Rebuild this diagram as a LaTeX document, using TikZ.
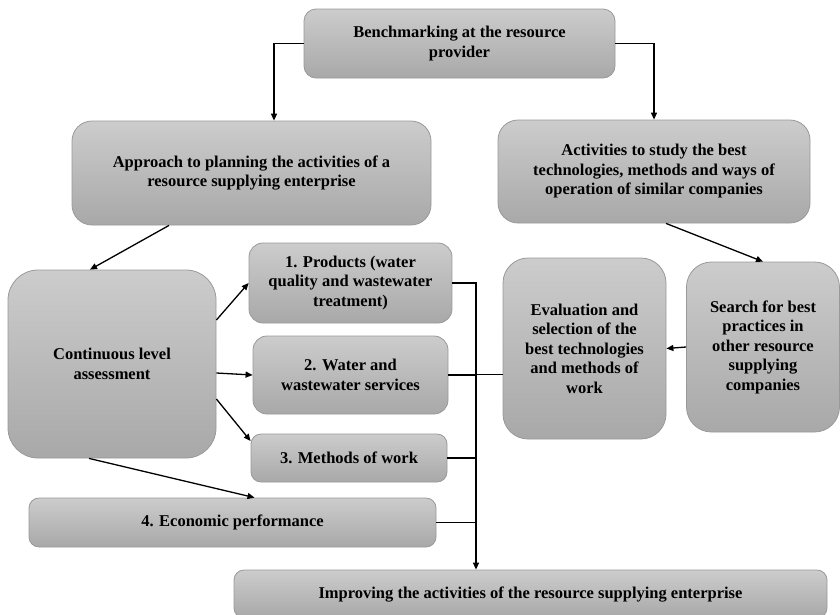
\documentclass[tikz,border=0pt]{standalone}
\usepackage{fontspec}
\setmainfont{Liberation Serif}
\usetikzlibrary{arrows.meta}

\definecolor{boxtop}{gray}{0.80}
\definecolor{boxbottom}{gray}{0.66}
\definecolor{boxline}{gray}{0.60}

\begin{document}
\begin{tikzpicture}[x=1pt, y=-1pt, line width=1.3pt, -{Triangle[length=7pt,width=6pt]},
	box/.style={draw=boxline, line width=0.8pt, top color=boxtop, bottom color=boxbottom,
		align=center, inner sep=0pt, font=\fontsize{16.5}{19.5}\selectfont\bfseries}]
	\useasboundingbox (0,0) rectangle (840,614);

% TOP LEVEL
	\node [box, rounded corners=12pt, minimum width=311pt, minimum height=69pt]
	(bench) at (459.5,43.5) {Benchmarking at the resource\\provider};
	\node [box, rounded corners=20pt, minimum width=359pt, minimum height=104pt]
	(plan) at (251.5,173) {Approach to planning the activities of a\\resource supplying enterprise};
	\node [box, rounded corners=20pt, minimum width=312pt, minimum height=103pt]
	(study) at (654,171.5) {Activities to study the best\\technologies, methods and ways of\\operation of similar companies};

% ASSESSMENT AND AREAS
	\node [box, rounded corners=30pt, minimum width=208pt, minimum height=188pt]
	(assess) at (112,364) {Continuous level\\assessment};
	\node [box, rounded corners=14pt, minimum width=203pt, minimum height=80pt]
	(prod) at (350.5,283) {1. Products (water\\quality and wastewater\\treatment)};
	\node [box, rounded corners=14pt, minimum width=195pt, minimum height=78pt]
	(water) at (350.5,375) {2. Water and\\wastewater services};
	\node [box, rounded corners=10pt, minimum width=196pt, minimum height=48pt]
	(methods) at (349,458) {3. Methods of work};
	\node [box, rounded corners=10pt, minimum width=407pt, minimum height=49pt]
	(econ) at (232.5,522.5) {4. Economic performance};
	\node [box, rounded corners=10pt, minimum width=593pt, minimum height=48pt]
	(improve) at (530.5,594) {Improving the activities of the resource supplying enterprise};

% BEST PRACTICES
	\node [box, rounded corners=25pt, minimum width=163pt, minimum height=181pt]
	(eval) at (584.5,348.5) {Evaluation and\\selection of the\\best technologies\\and methods of\\work};
	\node [box, rounded corners=25pt, minimum width=153pt, minimum height=170pt]
	(search) at (763,347) {Search for best\\practices in\\other resource\\supplying\\companies};

% CONNECTIONS
	\draw (bench.west) -| ([xshift=22.5pt]plan.north);
	\draw (bench.east) -| (study.north);
	\draw ([xshift=-82.5pt]plan.south) -- ([xshift=-22pt]assess.north);
	\draw ([xshift=12pt]study.south) -- (search.north);

	\draw ([yshift=44pt]assess.east) -- (prod.west);
	\draw ([yshift=-9pt]assess.east) -- (water.west);
	\draw ([yshift=-35pt]assess.east) -- ([yshift=17pt]methods.west);
	\draw ([xshift=-23pt]assess.south) -- ([xshift=22pt]econ.north);

	\draw (search.west) -- (eval.east);

% COMMON LINE
	\coordinate (bus) at ([xshift=-54.5pt]improve.north);
	\draw (prod.east) -| (bus);
	\draw [-] (water.east) -- (water.east -| bus);
	\draw [-] (methods.east) -- (methods.east -| bus);
	\draw [-] (econ.east) -- (econ.east -| bus);
	\draw [-] ([yshift=-26pt]eval.west) -- ([yshift=-26pt]eval.west -| bus);

\end{tikzpicture}
\end{document}
